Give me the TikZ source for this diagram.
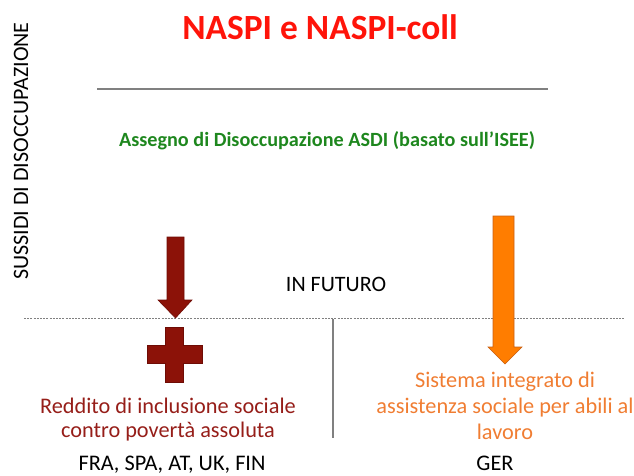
\documentclass[tikz,border=0pt]{standalone}
\usepackage{fontspec}
\setmainfont{Carlito}
\definecolor{titlered}{RGB}{255,20,10}
\definecolor{darkred}{RGB}{140,18,8}
\definecolor{darkredline}{RGB}{110,12,5}
\definecolor{textred}{RGB}{150,30,25}
\definecolor{asdigreen}{RGB}{30,135,30}
\definecolor{arroworange}{RGB}{255,125,0}
\definecolor{arroworangeline}{RGB}{200,95,20}
\definecolor{textorange}{RGB}{240,125,50}
\definecolor{linegray}{RGB}{128,128,128}
\begin{document}
\begin{tikzpicture}[x=1pt,y=-1pt,
  lbl/.style={inner sep=0pt, align=center},
  body/.style={lbl, font=\fontsize{22.3}{24}\selectfont},
  country/.style={inner sep=0pt, anchor=base, font=\fontsize{22.3}{24}\selectfont},
]
\useasboundingbox (0,0) rectangle (634,475);
% title
\node[lbl, text=titlered, font=\fontsize{35.4}{40}\bfseries] (title) at (320,27) {NASPI e NASPI-coll};
\coordinate (hl1) at (97,89);
\coordinate (hl2) at (548,89);
\draw[linegray, line width=1.4pt] (hl1) -- (hl2);
\node[lbl, text=asdigreen, font=\fontsize{20.2}{24}\bfseries] (asdi) at (327,141) {Assegno di Disoccupazione ASDI (basato sull’ISEE)};
\node[lbl, rotate=90, font=\fontsize{22}{26}\selectfont] (side) at (21,151) {SUSSIDI DI DISOCCUPAZIONE};
\node[lbl, font=\fontsize{22}{24}\selectfont] (fut) at (336,284) {IN FUTURO};
% dashed line
\coordinate (d1) at (24,318);
\coordinate (d2) at (624,318);
\draw[linegray, line width=0.8pt, dash pattern=on 2pt off 1.2pt] (d1) -- (d2);
\coordinate (v1) at (333,319);
\coordinate (v2) at (333,438);
\draw[linegray, line width=1.2pt] (v1) -- (v2);
% dark red arrow
\draw[darkredline, fill=darkred, line width=0.6pt]
  (167,237) -- (184,237) -- (184,300) -- (192,300) -- (175.5,318) -- (158,300) -- (167,300) -- cycle;
% cross
\draw[darkredline, fill=darkred, line width=0.6pt]
  (165,327) -- (183,327) -- (183,345) -- (202,345) -- (202,363) -- (183,363) -- (183,382) -- (165,382) -- (165,363) -- (147,363) -- (147,345) -- (165,345) -- cycle;
% orange arrow
\draw[arroworangeline, fill=arroworange, line width=0.6pt]
  (493,216) -- (514,216) -- (514,347) -- (522,347) -- (505,364) -- (488,347) -- (493,347) -- cycle;
% texts
\node[body, text=textred] (red) at (168,420) {Reddito di inclusione sociale\\contro povertà assoluta};
\node[country] (fra) at (172,470.5) {FRA, SPA, AT, UK, FIN};
\node[body, text=textorange, font=\fontsize{22.3}{26}\selectfont] (org) at (505,406) {Sistema integrato di\\assistenza sociale per abili al\\lavoro};
\node[country] (ger) at (495,470.5) {GER};
\end{tikzpicture}
\end{document}
